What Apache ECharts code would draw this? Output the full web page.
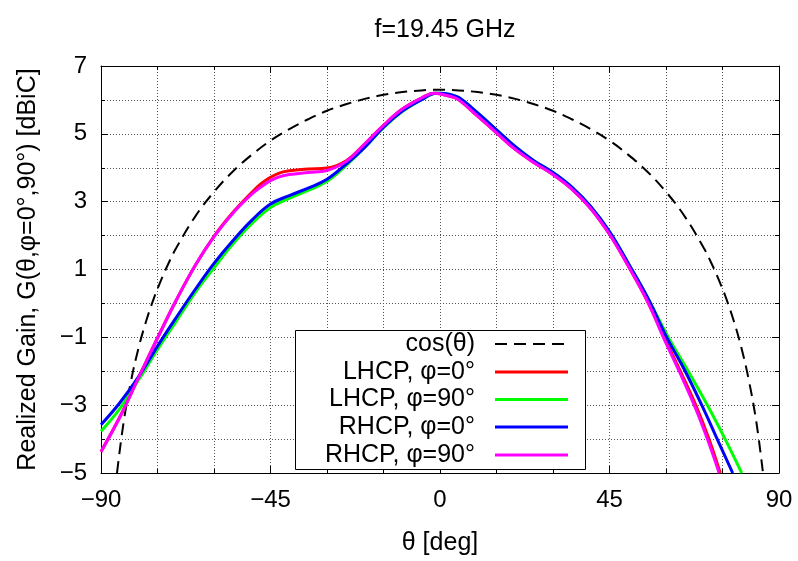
<!DOCTYPE html>
<html>
<head>
<meta charset="utf-8">
<script src="https://cdn.jsdelivr.net/npm/echarts@6/dist/echarts.min.js"></script>
<style>
html,body{margin:0;padding:0;background:#fff;}
#chart{width:798px;height:561px;}
</style>
</head>
<body>
<div id="chart"></div>
<script>
// ---- data ----
const titleText = 'f=19.45 GHz';
const xName = 'θ [deg]';
const yName = 'Realized Gain, G(θ,φ=0°,90°) [dBiC]';
const seriesNames = ['cos(θ)', 'LHCP, φ=0°', 'LHCP, φ=90°', 'RHCP, φ=0°', 'RHCP, φ=90°'];

const thetaCos = [-85.75,-84,-82,-80,-78,-76,-74,-72,-70,-65,-60,-55,-50,-45,-40,-35,-30,-25,-20,-15,-10,-5,0,5,10,15,20,25,30,35,40,45,50,55,60,65,70,72,74,76,78,80,82,84,85.75];
const gainCos  = [-5.0,-3.51,-2.27,-1.30,-0.52,0.14,0.70,1.20,1.64,2.56,3.29,3.89,4.38,4.80,5.14,5.43,5.68,5.87,6.03,6.15,6.23,6.28,6.30,6.28,6.23,6.15,6.03,5.87,5.68,5.43,5.14,4.80,4.38,3.89,3.29,2.56,1.64,1.20,0.70,0.14,-0.52,-1.30,-2.27,-3.51,-5.0];

const thetaLHCP0 = [-90,-85,-80,-75,-70,-65,-60,-55,-50,-47.5,-45,-42.5,-40,-35,-30,-25,-20,-15,-10,-5,-1.5,0,3,5,10,15,20,25,30,35,40,45,50,55,59.5,63.8,67.9,71.4,74.4];
const gainLHCP0  = [-4.37,-3.35,-2.18,-1.02,0.1,1.12,1.98,2.68,3.27,3.53,3.72,3.85,3.91,3.96,3.99,4.2,4.7,5.25,5.73,6.05,6.2,6.18,6.1,6.0,5.52,5.03,4.54,4.15,3.8,3.37,2.8,2.04,1.1,0.08,-1,-2,-3,-4,-5];

const thetaLHCP90 = [-90,-85,-80,-75,-70,-65,-60,-55,-50,-45,-40,-35,-30,-25,-20,-15,-10,-5,-1,0,3,5,10,15,20,25,30,35,40,45,50,55,60.6,65.9,71.0,75.7,80.1];
const gainLHCP90  = [-3.77,-3.1,-2.25,-1.36,-0.52,0.32,1.05,1.75,2.35,2.83,3.1,3.33,3.6,4.06,4.6,5.18,5.66,6.0,6.2,6.2,6.15,6.07,5.62,5.12,4.62,4.2,3.86,3.43,2.86,2.12,1.18,0.2,-1,-2,-3,-4,-5];

const thetaRHCP0 = [-90,-85,-80,-75,-70,-65,-60,-55,-50,-45,-40,-35,-30,-25,-20,-15,-10,-5,-1,0,3,5,10,15,20,25,30,35,40,45,50,55,60.2,65.1,69.5,73.6,77.7];
const gainRHCP0  = [-3.58,-2.93,-2.16,-1.26,-0.41,0.41,1.18,1.85,2.45,2.93,3.18,3.4,3.66,4.1,4.6,5.2,5.67,6.0,6.2,6.2,6.15,6.07,5.62,5.12,4.62,4.2,3.86,3.43,2.86,2.12,1.18,0.2,-1,-2,-3,-4,-5];

const thetaRHCP90 = [-90,-85,-80,-75,-70,-65,-60,-55,-50,-47.5,-45,-42.5,-40,-35,-30,-25,-20,-15,-10,-5,-1.5,0,3,5,10,15,20,25,30,35,40,45,50,55,59.3,63.5,67.5,71.0,74.1];
const gainRHCP90  = [-4.37,-3.35,-2.18,-1.02,0.1,1.12,1.97,2.66,3.22,3.44,3.62,3.74,3.8,3.86,3.92,4.18,4.7,5.25,5.73,6.05,6.2,6.18,6.1,6.0,5.52,5.03,4.54,4.15,3.8,3.37,2.8,2.04,1.1,0.08,-1,-2,-3,-4,-5];

const xTicks = [-90, -45, 0, 45, 90];
const yTicks = [-5, -3, -1, 1, 3, 5, 7];

// ---- styles ----
const FONT = 'Liberation Sans, Arial, Helvetica, sans-serif';
const colors = ['#000000', '#ff0000', '#00ff00', '#0000ff', '#ff00ff'];

function pair(xs, ys) { return xs.map((x, i) => [x, ys[i]]); }
function fmt(v) { return String(v).replace('-', '\u2212'); }

const gridLine = { show: true, lineStyle: { color: '#555', width: 1, type: [1, 2] } };

function xAxis(pos, labels) {
  return {
    type: 'value', position: pos, min: xTicks[0], max: xTicks[xTicks.length - 1], interval: 45,
    name: labels ? xName : '', nameLocation: 'middle', nameGap: 58,
    nameTextStyle: { fontFamily: FONT, fontSize: 25, color: '#000' },
    axisLine: { show: true, onZero: false, lineStyle: { color: '#000', width: 1 } },
    axisTick: { show: true, inside: true, length: 7, lineStyle: { color: '#000' } },
    minorTick: { show: true, splitNumber: 3, length: 4, lineStyle: { color: '#000' } },
    axisLabel: { show: labels, fontFamily: FONT, fontSize: 24, color: '#000', margin: 15, formatter: fmt },
    splitLine: labels ? gridLine : { show: false },
    minorSplitLine: labels ? gridLine : { show: false }
  };
}
function yAxis(pos, labels) {
  return {
    type: 'value', position: pos, min: yTicks[0], max: yTicks[yTicks.length - 1], interval: 2,
    name: labels ? yName : '', nameLocation: 'middle', nameGap: 60,
    nameTextStyle: { fontFamily: FONT, fontSize: 25, color: '#000' },
    axisLine: { show: true, onZero: false, lineStyle: { color: '#000', width: 1 } },
    axisTick: { show: true, inside: true, length: 7, lineStyle: { color: '#000' } },
    minorTick: { show: true, splitNumber: 2, length: 4, lineStyle: { color: '#000' } },
    axisLabel: { show: labels, fontFamily: FONT, fontSize: 24, color: '#000', margin: 14, formatter: fmt },
    splitLine: labels ? gridLine : { show: false },
    minorSplitLine: labels ? gridLine : { show: false }
  };
}

const dataSets = [
  pair(thetaCos, gainCos),
  pair(thetaLHCP0, gainLHCP0),
  pair(thetaLHCP90, gainLHCP90),
  pair(thetaRHCP0, gainRHCP0),
  pair(thetaRHCP90, gainRHCP90)
];

const series = dataSets.map((d, i) => ({
  name: seriesNames[i], type: 'line', data: d, xAxisIndex: 0, yAxisIndex: 0,
  showSymbol: false, smooth: 0.4, clip: true, animation: false,
  lineStyle: i === 0 ? { color: colors[i], width: 2, type: [12, 7] } : { color: colors[i], width: 3 },
  z: 3 + i
}));

// legend drawn as graphic (box with right-aligned text and line samples)
const LX0 = 295, LY0 = 330, LW = 290, LH = 139;
const rowY = [344, 372, 399.5, 427, 455];
const legendEls = [{
  type: 'rect', shape: { x: LX0 + 0.5, y: LY0 + 0.5, width: LW, height: LH },
  style: { fill: '#fff', stroke: '#000', lineWidth: 1 }, z: 100
}];
seriesNames.forEach((nm, i) => {
  legendEls.push({ type: 'text', x: 475, y: rowY[i], z: 101,
    style: { text: nm, fill: '#000', font: '25px ' + FONT, textAlign: 'right', textVerticalAlign: 'middle' } });
  legendEls.push({ type: 'line', z: 101,
    shape: { x1: 495, y1: rowY[i], x2: 568, y2: rowY[i] },
    style: i === 0 ? { stroke: colors[i], lineWidth: 2, lineDash: [12, 7] } : { stroke: colors[i], lineWidth: 3 } });
});

const chart = echarts.init(document.getElementById('chart'), null, { renderer: 'canvas' });
chart.setOption({
  animation: false,
  backgroundColor: '#fff',
  title: { text: titleText, left: 440, textAlign: 'center', top: 13,
    textStyle: { fontFamily: FONT, fontSize: 25, fontWeight: 'normal', color: '#000' } },
  grid: { left: 101, top: 66, right: 19, bottom: 85, containLabel: false },
  xAxis: [xAxis('bottom', true), xAxis('top', false)],
  yAxis: [yAxis('left', true), yAxis('right', false)],
  series: series,
  graphic: legendEls
});
</script>
</body>
</html>
